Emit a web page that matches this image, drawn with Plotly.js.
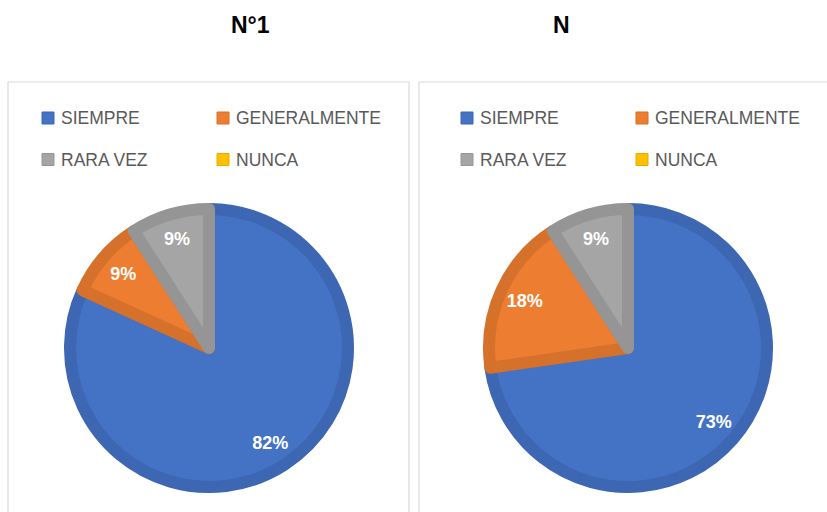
<!DOCTYPE html>
<html>
<head>
<meta charset="utf-8">
<script src="https://cdn.plot.ly/plotly-3.0.1.min.js"></script>
<style>html,body{margin:0;padding:0;background:#fff;}#chart{width:827px;height:512px;}</style>
</head>
<body>
<div id="chart"></div>
<script>
const labels = ['SIEMPRE', 'GENERALMENTE', 'RARA VEZ', 'NUNCA'];
const valuesN1 = [9, 1, 1, 0];
const valuesN = [8, 2, 1, 0];
const chartTitles = ['N°1', 'N'];
const fillColors = ['#4472C4', '#ED7D31', '#A5A5A5', '#FFC000'];
const lineColors = ['#3D66B3', '#D6712C', '#959595', '#E6AD00'];

const W = 827, H = 512;
const X = px => px / W;
const Y = py => 1 - py / H;
const R = 139; // radius to stroke centre
const centres = [[209, 348], [628, 348]];

function dom(c, r) {
  return {x: [X(c[0] - r), X(c[0] + r)], y: [Y(c[1] + r), Y(c[1] - r)]};
}

function pieTrace(values, c) {
  return {
    type: 'pie',
    labels: labels,
    values: values,
    sort: false,
    direction: 'clockwise',
    rotation: 0,
    domain: dom(c, R),
    marker: {colors: fillColors, line: {color: lineColors, width: values.map(v => v > 0 ? 12 : 0)}},
    textinfo: 'none',
    hoverinfo: 'none',
    showlegend: false
  };
}

// transparent ring on top that only carries the percentage labels
function labelTrace(values, c) {
  return {
    type: 'pie',
    labels: labels,
    values: values,
    sort: false,
    direction: 'clockwise',
    rotation: 0,
    hole: 0.62,
    domain: dom(c, 140),
    marker: {colors: labels.map(() => 'rgba(0,0,0,0)'), line: {width: 0}},
    texttemplate: values.map(v => v > 0 ? '%{percent:.0%}' : ''),
    textposition: 'inside',
    insidetextorientation: 'horizontal',
    textfont: {color: '#ffffff', size: 18, family: 'Liberation Sans, Arial, sans-serif', weight: 700},
    hoverinfo: 'none',
    showlegend: false
  };
}

const data = [
  pieTrace(valuesN1, centres[0]), pieTrace(valuesN, centres[1]),
  labelTrace(valuesN1, centres[0]), labelTrace(valuesN, centres[1])
];

const shapes = [];
const annotations = [];
// boxes
[[8, 409], [419, 840]].forEach(([a, b]) => {
  shapes.push({type: 'rect', xref: 'paper', yref: 'paper', x0: X(a), x1: X(b), y0: Y(530), y1: Y(82),
    line: {color: '#D9D9D9', width: 1.2}, fillcolor: 'rgba(0,0,0,0)', layer: 'below'});
});
// titles
[250, 561].forEach((cx, i) => {
  annotations.push({xref: 'paper', yref: 'paper', x: X(cx), y: Y(25), text: '<b>' + chartTitles[i] + '</b>',
    showarrow: false, xanchor: 'center', yanchor: 'middle',
    font: {family: 'Liberation Sans, Arial, sans-serif', size: 23, color: '#000000'}});
});
// legends
[0, 419].forEach(off => {
  labels.forEach((lab, i) => {
    const col = i % 2, row = Math.floor(i / 2);
    const mx = 42 + col * 175 + off;
    const my = 118 + row * 41.5;
    shapes.push({type: 'rect', xref: 'paper', yref: 'paper', x0: X(mx), x1: X(mx + 12), y0: Y(my + 6), y1: Y(my - 6),
      fillcolor: fillColors[i], line: {color: lineColors[i], width: 1}});
    annotations.push({xref: 'paper', yref: 'paper', x: X(mx + 17), y: Y(my), text: lab, showarrow: false,
      xanchor: 'left', yanchor: 'middle',
      font: {family: 'Liberation Sans, Arial, sans-serif', size: 17.5, color: '#595959'}});
  });
});

const layout = {
  width: W, height: H,
  margin: {l: 0, r: 0, t: 0, b: 0},
  paper_bgcolor: '#ffffff',
  showlegend: false,
  shapes: shapes,
  annotations: annotations
};

Plotly.newPlot('chart', data, layout, {displayModeBar: false, staticPlot: true});
</script>
</body>
</html>
